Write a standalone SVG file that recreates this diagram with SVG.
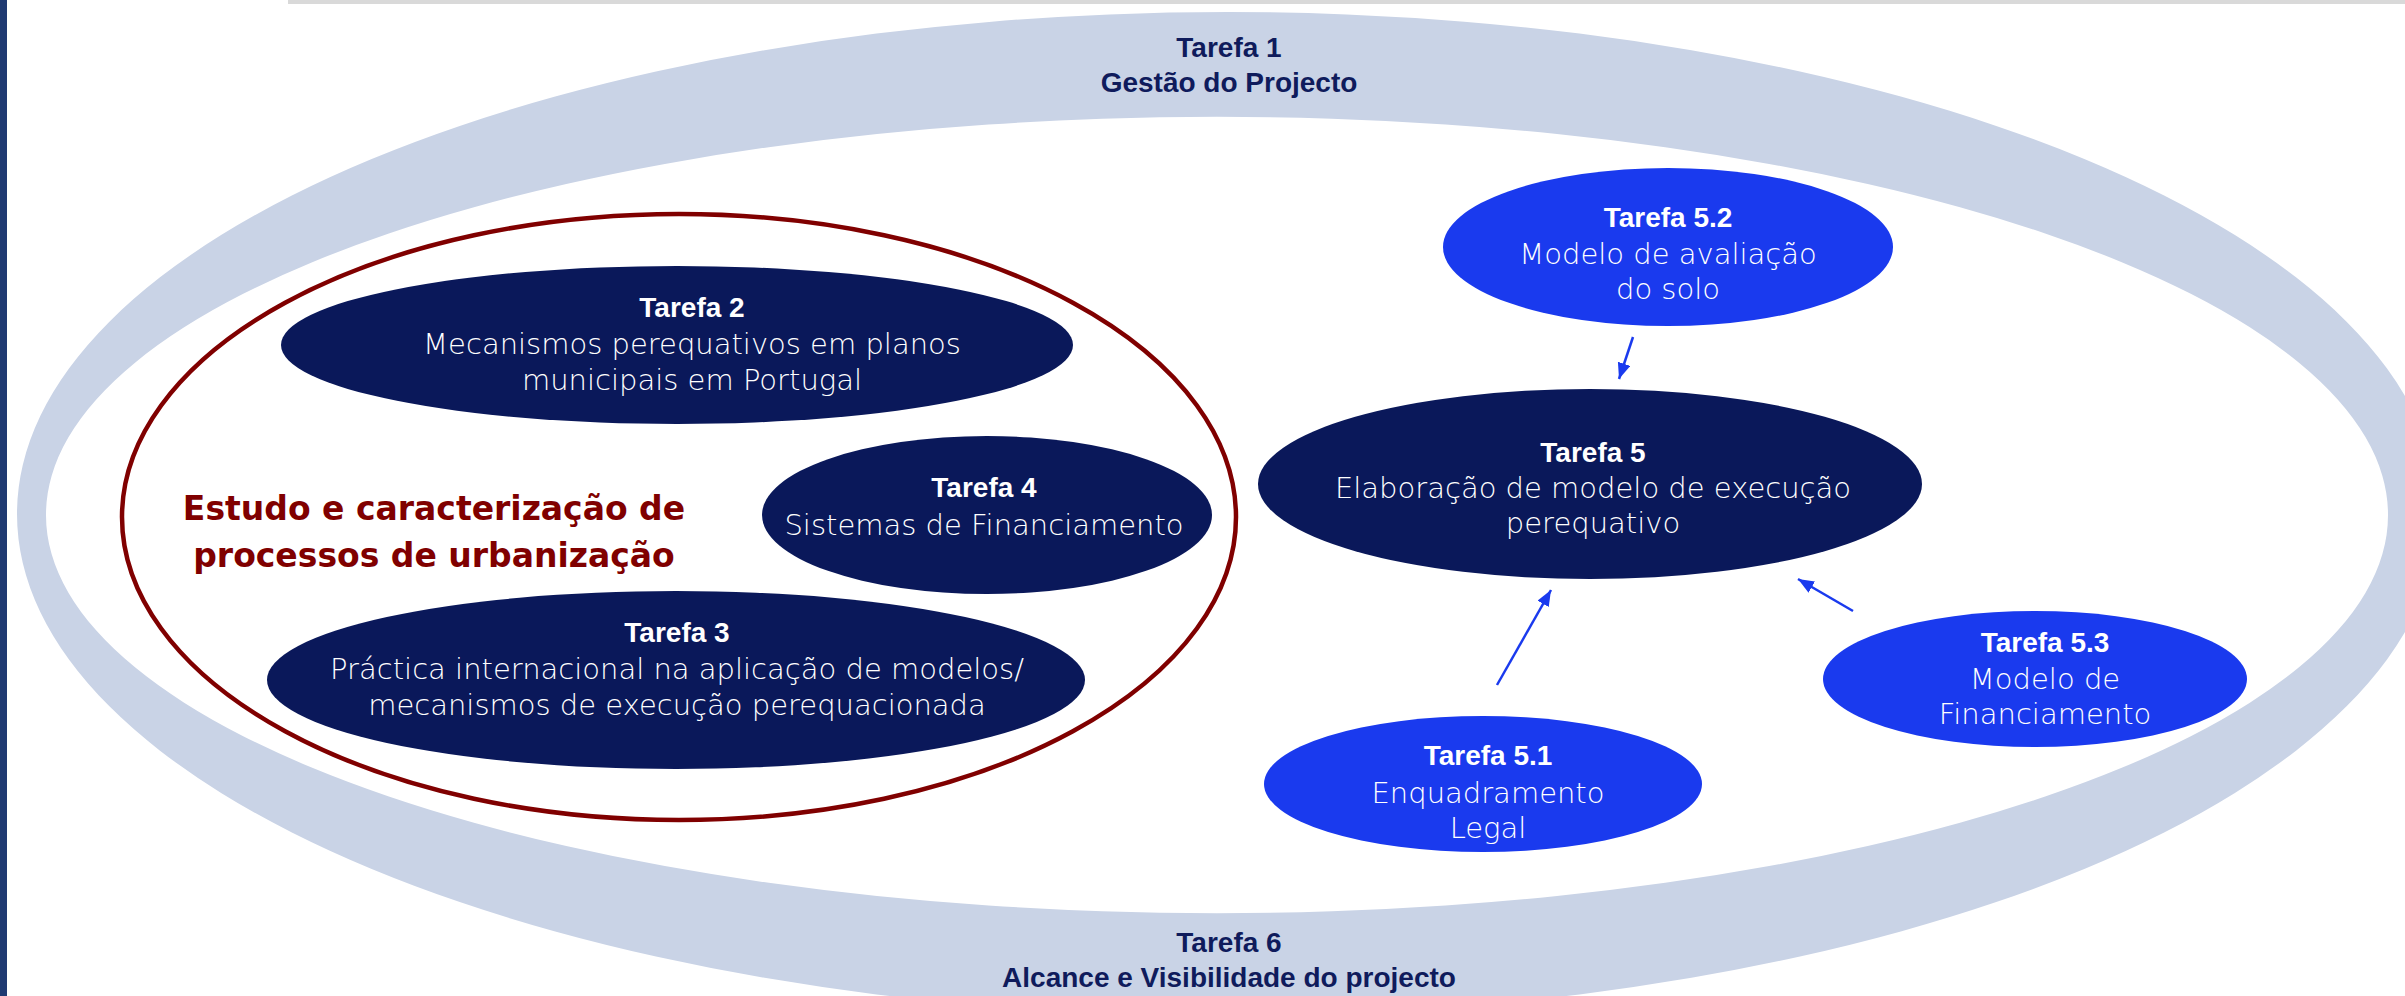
<svg xmlns="http://www.w3.org/2000/svg" width="2405" height="996" viewBox="0 0 2405 996">
<style>
.hd{font-family:"Liberation Sans",Arial,sans-serif;font-weight:bold;font-size:28px;text-anchor:middle}
.tx{font-family:"DejaVu Sans","Liberation Sans",sans-serif;font-weight:200;font-size:29px;text-anchor:middle;fill:#ffffff}
.w{fill:#ffffff}
.nv{fill:#0f1b5c}
.dark{fill:#0a185a}
.lite{fill:#1a3aee}
.red{font-family:"DejaVu Sans","Liberation Sans",sans-serif;font-weight:bold;font-size:33px;text-anchor:middle;fill:#800000}
.arr{stroke:#1a3aee;stroke-width:2.5;fill:none;marker-end:url(#ah)}
</style>
<defs>
<marker id="ah" markerUnits="userSpaceOnUse" markerWidth="18" markerHeight="14" refX="16" refY="6.5" orient="auto">
<path d="M0,0 L16,6.5 L0,13 z" fill="#1a3aee"/>
</marker>
</defs>
<rect x="0" y="0" width="2405" height="996" fill="#ffffff"/>
<rect x="0" y="0" width="7" height="996" fill="#1f3a72"/>
<rect x="288" y="0" width="2117" height="4" fill="#d9d9d9"/>
<g id="ring">
<path fill="#c9d3e6" fill-rule="evenodd" d="M17,514 A1211,502 0 1 0 2439,514 A1211,502 0 1 0 17,514 Z M46,515 A1171,398 0 1 0 2388,515 A1171,398 0 1 0 46,515 Z"/>
<text class="hd nv" x="1229" y="57">Tarefa 1</text>
<text class="hd nv" x="1229" y="92">Gestão do Projecto</text>
<text class="hd nv" x="1229" y="952">Tarefa 6</text>
<text class="hd nv" x="1229" y="987">Alcance e Visibilidade do projecto</text>
</g>
<g id="grupo-estudo">
<ellipse cx="679" cy="517" rx="557" ry="303" fill="none" stroke="#800000" stroke-width="4.5"/>
<text class="red" x="434" y="520">Estudo e caracterização de</text>
<text class="red" x="434" y="567">processos de urbanização</text>
</g>
<g id="tarefa2">
<ellipse class="dark" cx="677" cy="345" rx="396" ry="79"/>
<text class="hd w" x="692" y="317">Tarefa 2</text>
<text class="tx" x="692" y="354">Mecanismos perequativos em planos</text>
<text class="tx" x="692" y="390">municipais em Portugal</text>
</g>
<g id="tarefa4">
<ellipse class="dark" cx="987" cy="515" rx="225" ry="79"/>
<text class="hd w" x="984" y="497">Tarefa 4</text>
<text class="tx" x="984" y="535">Sistemas de Financiamento</text>
</g>
<g id="tarefa3">
<ellipse class="dark" cx="676" cy="680" rx="409" ry="89"/>
<text class="hd w" x="677" y="642">Tarefa 3</text>
<text class="tx" x="677" y="679">Práctica internacional na aplicação de modelos/</text>
<text class="tx" x="677" y="715">mecanismos de execução perequacionada</text>
</g>
<g id="tarefa5">
<ellipse class="dark" cx="1590" cy="484" rx="332" ry="95"/>
<text class="hd w" x="1593" y="462">Tarefa 5</text>
<text class="tx" x="1593" y="498">Elaboração de modelo de execução</text>
<text class="tx" x="1593" y="533">perequativo</text>
</g>
<g id="tarefa5-2">
<ellipse class="lite" cx="1668" cy="247" rx="225" ry="79"/>
<text class="hd w" x="1668" y="227">Tarefa 5.2</text>
<text class="tx" x="1668" y="264">Modelo de avaliação</text>
<text class="tx" x="1668" y="299">do solo</text>
</g>
<g id="tarefa5-1">
<ellipse class="lite" cx="1483" cy="784" rx="219" ry="68"/>
<text class="hd w" x="1488" y="765">Tarefa 5.1</text>
<text class="tx" x="1488" y="803">Enquadramento</text>
<text class="tx" x="1488" y="838">Legal</text>
</g>
<g id="tarefa5-3">
<ellipse class="lite" cx="2035" cy="679" rx="212" ry="68"/>
<text class="hd w" x="2045" y="652">Tarefa 5.3</text>
<text class="tx" x="2045" y="689">Modelo de</text>
<text class="tx" x="2045" y="724">Financiamento</text>
</g>
<g id="connectors">
<line class="arr" x1="1633" y1="337" x2="1619" y2="379"/>
<line class="arr" x1="1497" y1="685" x2="1551" y2="590"/>
<line class="arr" x1="1853" y1="611" x2="1798" y2="579"/>
</g>
</svg>
